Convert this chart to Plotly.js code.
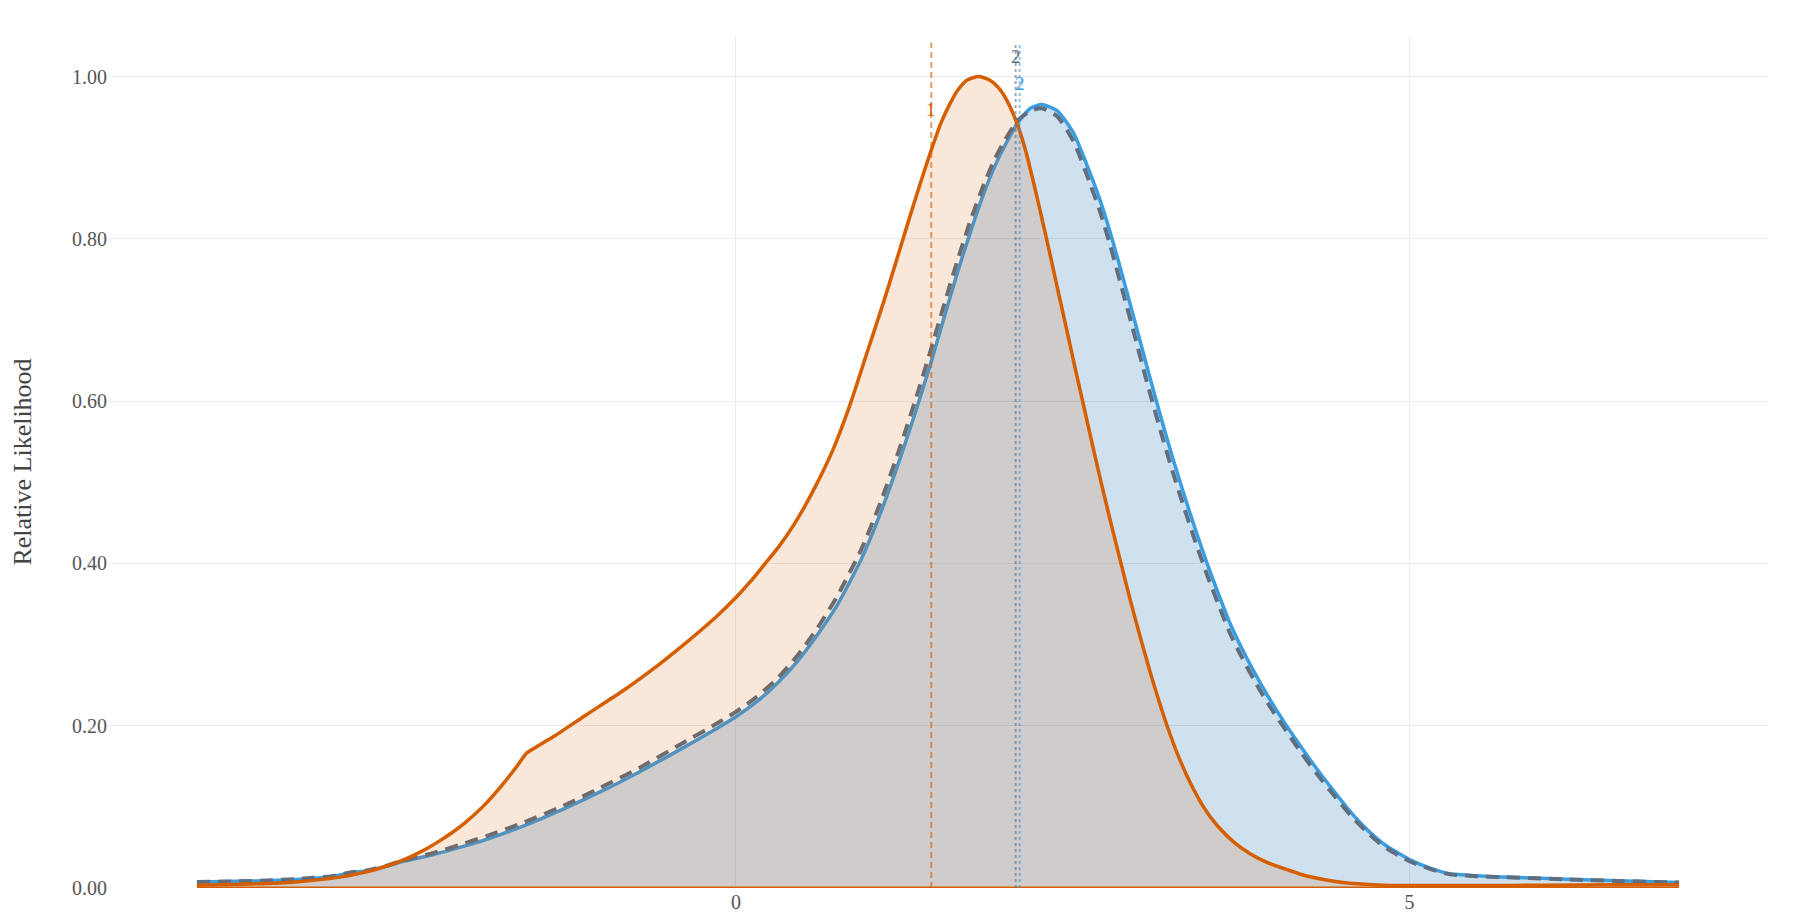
<!DOCTYPE html>
<html>
<head>
<meta charset="utf-8">
<script src="https://cdn.plot.ly/plotly-3.0.1.min.js"></script>
<style>
  html, body { margin: 0; padding: 0; background: #fff; }
  #plot { width: 1800px; height: 920px; }
</style>
</head>
<body>
<div id="plot"></div>
<script>
// curve 1 (orange)
var orangeX = [-4.00, -3.60, -3.27, -2.93, -2.74, -2.65, -2.49, -2.42, -2.30, -2.19,
  -2.10, -2.02, -1.88, -1.74, -1.625, -1.555, -1.51, -1.43, -1.34, -1.115,
  -0.83, -0.574, -0.43, -0.148, 0.00, 0.136, 0.218, 0.32, 0.42, 0.51,
  0.60, 0.72, 0.85, 0.97, 1.096, 1.18, 1.27, 1.36, 1.443, 1.52,
  1.59, 1.65, 1.72, 1.80, 1.88, 1.95, 2.01, 2.087, 2.15, 2.21,
  2.27, 2.334, 2.40, 2.458, 2.52, 2.58, 2.645, 2.705, 2.78, 2.852,
  2.93, 3.00, 3.10, 3.20, 3.29, 3.374, 3.47, 3.572, 3.70, 3.82,
  3.95, 4.067, 4.19, 4.315, 4.45, 4.56, 4.80, 5.00, 5.50, 6.00,
  6.50, 7.00];
var orangeY = [0.0035, 0.005, 0.0075, 0.0137, 0.020, 0.024, 0.033, 0.038, 0.048, 0.059,
  0.069, 0.079, 0.100, 0.126, 0.150, 0.166, 0.171, 0.179, 0.188, 0.213,
  0.244, 0.275, 0.294, 0.334, 0.358, 0.383, 0.400, 0.421, 0.445, 0.470,
  0.498, 0.540, 0.597, 0.658, 0.722, 0.767, 0.816, 0.864, 0.906, 0.942,
  0.967, 0.984, 0.996, 1.000, 0.996, 0.986, 0.971, 0.942, 0.909, 0.869,
  0.826, 0.779, 0.729, 0.686, 0.639, 0.595, 0.547, 0.504, 0.452, 0.404,
  0.353, 0.310, 0.252, 0.200, 0.160, 0.129, 0.100, 0.077, 0.056, 0.042,
  0.031, 0.024, 0.017, 0.012, 0.008, 0.0058, 0.0035, 0.003, 0.003, 0.0035,
  0.004, 0.004];

// curve 2 (blue) and its dashed companion share one x grid
var blueX = [-4.00, -3.60, -3.27, -3.00, -2.85, -2.74, -2.59, -2.49, -2.25, -2.05,
  -1.85, -1.57, -1.285, -1.00, -0.717, -0.432, -0.148, 0.00, 0.15, 0.30,
  0.45, 0.60, 0.75, 0.93, 1.08, 1.22, 1.33, 1.443, 1.54, 1.64,
  1.74, 1.84, 1.92, 1.987, 2.087, 2.186, 2.272, 2.384, 2.507, 2.631,
  2.70, 2.78, 2.87, 2.953, 3.05, 3.151, 3.24, 3.324, 3.41, 3.497,
  3.58, 3.67, 3.75, 3.844, 3.95, 4.067, 4.19, 4.315, 4.44, 4.56,
  4.69, 4.81, 5.00, 5.18, 5.30, 5.50, 5.675, 6.17, 6.54, 7.00];
var blueY = [0.0075, 0.0085, 0.0105, 0.014, 0.019, 0.021, 0.027, 0.032, 0.041, 0.050,
  0.060, 0.077, 0.097, 0.119, 0.143, 0.169, 0.196, 0.211, 0.229, 0.251,
  0.278, 0.311, 0.348, 0.405, 0.465, 0.530, 0.585, 0.645, 0.700, 0.756,
  0.808, 0.856, 0.889, 0.912, 0.942, 0.961, 0.9655, 0.958, 0.930, 0.880,
  0.849, 0.807, 0.754, 0.703, 0.643, 0.582, 0.531, 0.486, 0.442, 0.400,
  0.363, 0.325, 0.297, 0.267, 0.236, 0.205, 0.175, 0.146, 0.119, 0.094,
  0.071, 0.054, 0.035, 0.023, 0.0175, 0.015, 0.0137, 0.0108, 0.0088, 0.0068];
var grayY = [0.0075, 0.0085, 0.011, 0.0145, 0.0195, 0.0215, 0.0275, 0.033, 0.043, 0.053,
  0.064, 0.081, 0.101, 0.124, 0.148, 0.175, 0.202, 0.217, 0.235, 0.257,
  0.285, 0.319, 0.359, 0.417, 0.478, 0.544, 0.600, 0.661, 0.716, 0.771,
  0.822, 0.867, 0.898, 0.919, 0.945, 0.958, 0.961, 0.951, 0.920, 0.867,
  0.835, 0.791, 0.736, 0.685, 0.624, 0.564, 0.514, 0.470, 0.427, 0.386,
  0.350, 0.313, 0.286, 0.257, 0.227, 0.198, 0.168, 0.140, 0.114, 0.090,
  0.068, 0.051, 0.033, 0.022, 0.0168, 0.0145, 0.0135, 0.0106, 0.0087, 0.0067];

// marker lines and their labels
var markX = [1.45, 2.076, 2.106];
var markText = ['1', '2', '2'];

var orange = '#d55e00';
var blue = '#3a9de0';
var slate = '#5f6e80';
var markColors = ['rgba(213,94,0,0.6)', 'rgba(95,110,128,0.6)', 'rgba(58,157,224,0.6)'];
var markTextColors = [orange, slate, blue];
var markDash = ['6px,4px', 'dot', 'dot'];
var labelY = [0.96, 1.025, 0.992];

var traces = [
  {
    x: blueX, y: blueY, type: 'scatter', mode: 'lines',
    fill: 'tozeroy', fillcolor: 'rgba(0,90,170,0.19)',
    line: {color: blue, width: 3.5, shape: 'spline', smoothing: 0.6},
    showlegend: false
  },
  {
    x: blueX, y: grayY, type: 'scatter', mode: 'lines',
    line: {color: slate, width: 4, dash: '13px,8px', shape: 'spline', smoothing: 0.6},
    showlegend: false
  },
  {
    x: orangeX, y: orangeY, type: 'scatter', mode: 'lines',
    fill: 'tozeroy', fillcolor: 'rgba(213,94,0,0.15)',
    line: {color: orange, width: 3.5, shape: 'spline', smoothing: 0.6},
    showlegend: false
  }
];

var shapes = [{
  type: 'line', xref: 'x', yref: 'y',
  x0: orangeX[0], x1: orangeX[orangeX.length - 1], y0: 0, y1: 0,
  line: {color: orange, width: 3}, layer: 'above'
}];
var annotations = [];
markX.forEach(function (mx, i) {
  shapes.push({
    type: 'line', xref: 'x', yref: 'y',
    x0: mx, x1: mx, y0: 0, y1: 1.042,
    line: {color: markColors[i], width: 2, dash: markDash[i]}
  });
  annotations.push({
    x: mx, y: labelY[i], xref: 'x', yref: 'y',
    text: markText[i], showarrow: false,
    font: {family: 'Liberation Serif, serif', size: 19, color: markTextColors[i]}
  });
});

var layout = {
  width: 1800,
  height: 920,
  margin: {l: 108, r: 32, t: 36, b: 32},
  paper_bgcolor: '#fff',
  plot_bgcolor: '#fff',
  font: {family: 'Liberation Serif, serif', size: 20, color: '#555'},
  showlegend: false,
  xaxis: {
    range: [-4.66, 7.66],
    dtick: 5,
    tick0: 0,
    showgrid: true,
    gridcolor: '#ebebeb',
    zeroline: false,
    showline: false,
    ticks: '',
    tickfont: {size: 20, color: '#555'}
  },
  yaxis: {
    range: [0, 1.05],
    dtick: 0.2,
    tickformat: '.2f',
    showgrid: true,
    gridcolor: '#ebebeb',
    zeroline: false,
    showline: false,
    ticks: '',
    tickfont: {size: 20, color: '#555'},
    title: {text: 'Relative Likelihood', font: {size: 26, color: '#444'}, standoff: 32}
  },
  shapes: shapes,
  annotations: annotations
};

Plotly.newPlot('plot', traces, layout, {displayModeBar: false, staticPlot: true});
</script>
</body>
</html>
